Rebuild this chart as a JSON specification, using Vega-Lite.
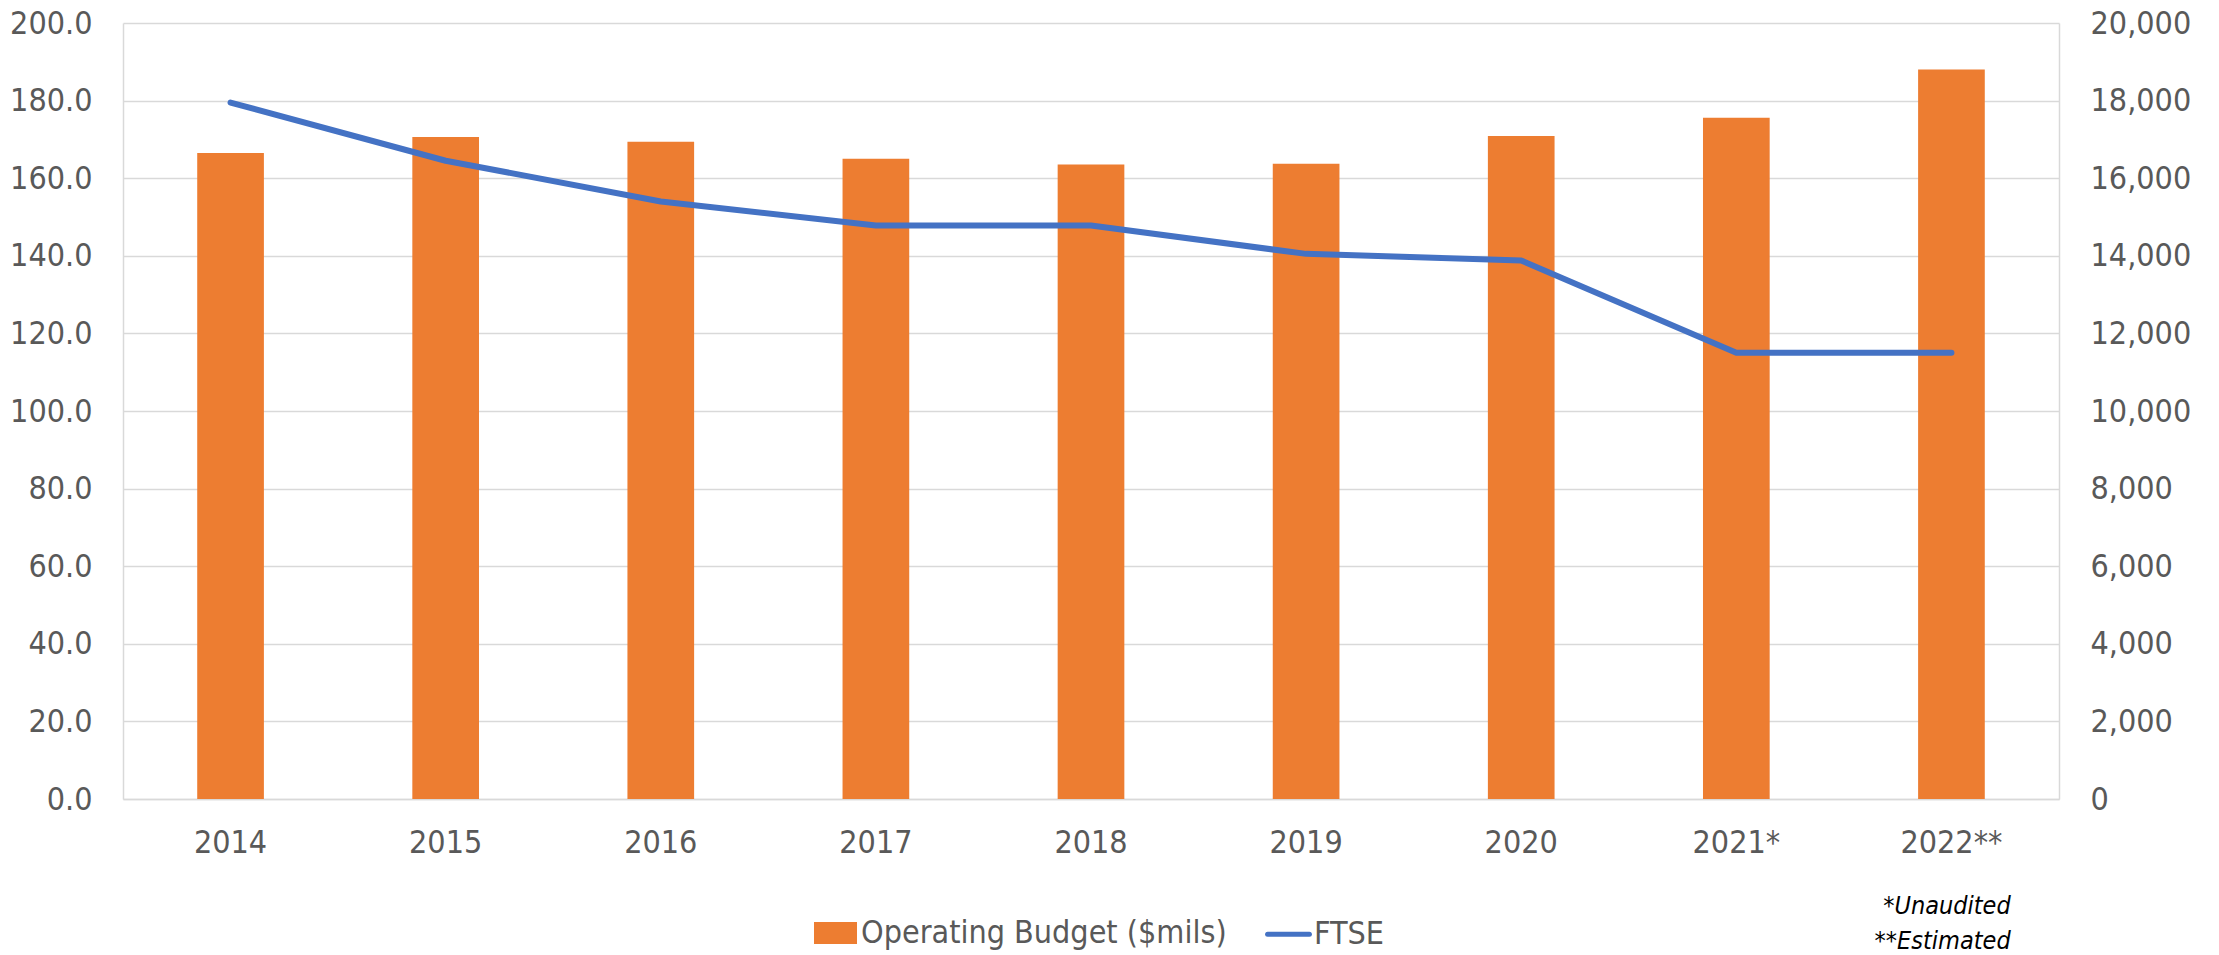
{
  "$schema": "https://vega.github.io/schema/vega-lite/v6.json",
  "autosize": {"type": "none"},
  "padding": {"left": 123, "top": 23, "right": 160, "bottom": 156},
  "width": 1936,
  "height": 776,
  "background": "white",
  "config": {
    "view": {"stroke": null},
    "font": "DejaVu Sans Condensed, DejaVu Sans",
    "axis": {"labelFont": "DejaVu Sans Condensed, DejaVu Sans", "labelColor": "#595959", "labelFontSize": 32, "ticks": false, "domainColor": "#D9D9D9", "domainWidth": 1.5, "gridColor": "#D9D9D9", "gridWidth": 1.5, "title": null}
  },
  "title": {
    "text": ["*Unaudited", "**Estimated"],
    "orient": "bottom",
    "anchor": "end",
    "align": "right",
    "baseline": "top",
    "dx": -180,
    "offset": -58,
    "font": "DejaVu Sans Condensed, DejaVu Sans",
    "fontSize": 25,
    "fontStyle": "italic",
    "fontWeight": "normal",
    "color": "#000000",
    "lineHeight": 35
  },
  "data": {
    "values": [
      {"year": "2014", "budget": 166.5, "ftse": 17950},
      {"year": "2015", "budget": 170.6, "ftse": 16450},
      {"year": "2016", "budget": 169.4, "ftse": 15400},
      {"year": "2017", "budget": 165.0, "ftse": 14780},
      {"year": "2018", "budget": 163.5, "ftse": 14780},
      {"year": "2019", "budget": 163.7, "ftse": 14050},
      {"year": "2020", "budget": 170.9, "ftse": 13880},
      {"year": "2021*", "budget": 175.6, "ftse": 11500},
      {"year": "2022**", "budget": 188.0, "ftse": 11500}
    ]
  },
  "encoding": {
    "x": {
      "field": "year", "type": "nominal", "sort": null,
      "scale": {"paddingInner": 0.69, "paddingOuter": 0.345},
      "axis": {"labelAngle": 0, "labelPadding": 28, "domain": true, "grid": false}
    }
  },
  "layer": [
    {
      "mark": {"type": "bar", "color": "#ED7D31"},
      "encoding": {
        "y": {
          "field": "budget", "type": "quantitative",
          "scale": {"domain": [0, 200], "nice": false, "zero": true},
          "axis": {"orient": "left", "values": [0, 20, 40, 60, 80, 100, 120, 140, 160, 180, 200], "format": ".1f", "labelPadding": 31, "grid": true, "domain": true}
        },
        "color": {
          "datum": "Operating Budget ($mils)",
          "scale": {"domain": ["Operating Budget ($mils)", "FTSE"], "range": ["#ED7D31", "#4472C4"]},
          "legend": {
            "orient": "none", "legendX": 691, "legendY": 888, "direction": "horizontal", "title": null,
            "labelFont": "DejaVu Sans Condensed, DejaVu Sans", "labelFontSize": 32, "labelColor": "#595959", "labelLimit": 0,
            "symbolSize": 1444, "labelOffset": 4, "columnPadding": 30,
            "encode": {
              "symbols": {
                "update": {
                  "shape": {"signal": "datum.value === 'FTSE' ? 'M-1.1,0H1.1' : 'M-1,-0.45H1V0.45H-1Z'"},
                  "fill": {"signal": "datum.value === 'FTSE' ? 'transparent' : '#ED7D31'"},
                  "stroke": {"signal": "datum.value === 'FTSE' ? '#4472C4' : 'transparent'"},
                  "strokeWidth": {"value": 5},
                  "strokeCap": {"value": "round"},
                  "opacity": {"value": 1},
                  "fillOpacity": {"value": 1}
                }
              }
            }
          }
        }
      }
    },
    {
      "mark": {"type": "line", "color": "#4472C4", "strokeWidth": 6, "strokeCap": "round", "strokeJoin": "round"},
      "encoding": {
        "y": {
          "field": "ftse", "type": "quantitative",
          "scale": {"domain": [0, 20000], "nice": false, "zero": true},
          "axis": {"orient": "right", "values": [0, 2000, 4000, 6000, 8000, 10000, 12000, 14000, 16000, 18000, 20000], "format": ",.0f", "labelPadding": 31, "grid": false, "domain": true}
        },
        "color": {"datum": "FTSE"}
      }
    }
  ],
  "resolve": {"scale": {"y": "independent"}}
}
